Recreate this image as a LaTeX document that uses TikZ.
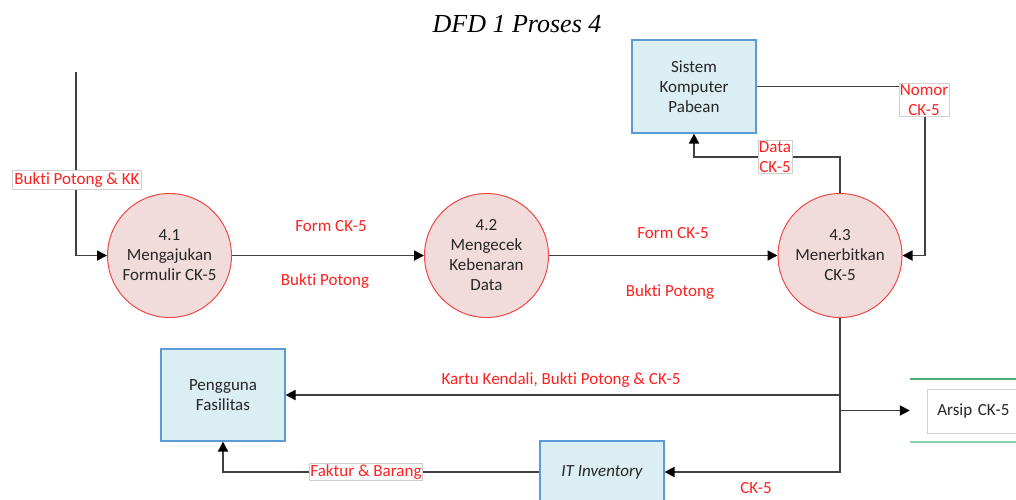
\documentclass[tikz,border=0pt]{standalone}
\usepackage{fontspec}
\setmainfont{Carlito}[Ligatures={NoCommon,TeX}]
\newfontfamily\titlefont{Liberation Serif}
\usetikzlibrary{arrows.meta}

\definecolor{procfill}{HTML}{F2DCDB}
\definecolor{procline}{HTML}{F04848}
\definecolor{entfill}{HTML}{DAEEF3}
\definecolor{entline}{HTML}{5B9BD5}
\definecolor{flowgray}{HTML}{404040}
\definecolor{labred}{HTML}{FF2020}
\definecolor{darktext}{HTML}{262626}
\definecolor{boxgray}{HTML}{D0D0D0}
\definecolor{storegreen}{HTML}{4FAE76}
\definecolor{storegreenlt}{HTML}{8ED0A9}

\begin{document}
\begin{tikzpicture}[x=1pt,y=-1pt,
  proc/.style={circle, draw=procline, fill=procfill, line width=1pt,
    minimum size=124pt, inner sep=0pt, align=center, text=darktext,
    font=\fontsize{17}{20}\selectfont},
  ent/.style={rectangle, draw=entline, fill=entfill, line width=1.2pt,
    minimum width=124pt, align=center, text=darktext,
    font=\fontsize{17}{20}\selectfont},
  flow/.style={draw=flowgray, line width=1.8pt,
    -{Triangle[length=10pt,width=10pt,color=black]}},
  lab/.style={text=labred, font=\fontsize{17}{20}\selectfont, inner sep=1pt},
  boxlab/.style={lab, fill=white, draw=boxgray, line width=0.5pt,
    inner sep=2pt, align=center}
]
\useasboundingbox (0,0) rectangle (1016,499);

% title
\node[font=\titlefont\itshape\fontsize{26}{29}\selectfont] (title) at (517,24) {DFD 1 Proses 4};

% processes
\node[proc] (p41) at (169.5,255.5) {4.1\\Mengajukan\\Formulir CK-5};
\node[proc] (p42) at (486.5,255.5) {4.2\\Mengecek\\Kebenaran\\Data};
\node[proc] (p43) at (840,255.5) {4.3\\Menerbitkan\\CK-5};

% external entities
\node[ent, minimum height=93pt] (skp) at (694,86.5) {Sistem\\Komputer\\Pabean};
\node[ent, minimum height=92pt] (pf) at (223,395) {Pengguna\\Fasilitas};
\node[ent, minimum height=62pt, font=\itshape\fontsize{17}{20}\selectfont] (iti) at (602,472) {IT Inventory};

% data store
\node[minimum width=106pt, minimum height=63pt, inner sep=0pt] (arsip) at (963,410.5) {};
\draw[storegreen, line width=2pt] (arsip.north west) -- (arsip.north east);
\draw[storegreenlt, line width=2.4pt] (arsip.south west) -- (arsip.south east);
\node[draw=boxgray, fill=white, line width=0.6pt, minimum width=110pt, minimum height=44pt,
  anchor=west, font=\fontsize{17}{20}\selectfont, text=darktext, align=left,
  text width=90pt, inner xsep=9pt] (arsipid) at (927,411) {Arsip CK-5};

% junction points
\coordinate (src) at (76,72);
\coordinate (j1) at (840,157);
\coordinate (j2) at (925,255.5);
\coordinate (b1) at (840,395);
\coordinate (b2) at (840,410.5);

% flows
\draw[flow] (src) |- (p41.west);
\draw[flow] (p41.east) -- (p42.west);
\draw[flow] (p42.east) -- (p43.west);
\draw[flow] (p43.north) -- (j1) -| (skp.south);
\draw[flow] (skp.east) -| (j2) -- (p43.east);
\draw[flow] (p43.south) |- (iti.east);
\draw[flow] (b1) -- (pf.east);
\draw[flow] (b2) -- (arsip.west);
\draw[flow] (iti.west) -| (pf.south);

% flow labels
\node[boxlab] (lbk) at (77,180) {Bukti Potong \& KK};
\node[lab] (lf1) at (331,226) {Form CK-5};
\node[lab] (lb1) at (325,281) {Bukti Potong};
\node[lab] (lf2) at (673,233) {Form CK-5};
\node[lab] (lb2) at (670,292) {Bukti Potong};
\node[boxlab, inner sep=1pt] (ldata) at (775,157) {Data\\CK-5};
\node[boxlab, inner sep=1pt] (lnomor) at (924,100) {Nomor\\CK-5};
\node[lab] (lkartu) at (561,380) {Kartu Kendali, Bukti Potong \& CK-5};
\node[boxlab, inner sep=1pt] (lfaktur) at (366,472) {Faktur \& Barang};
\node[lab] (lck) at (756,488) {CK-5};
\end{tikzpicture}
\end{document}
